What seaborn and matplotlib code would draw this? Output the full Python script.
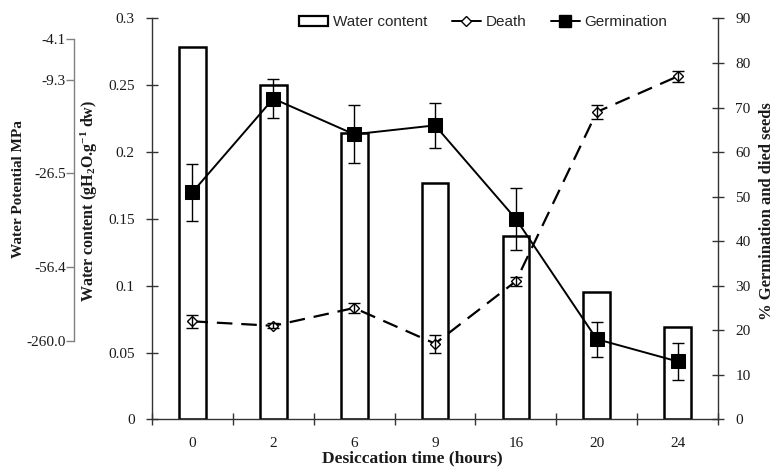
import numpy as np
import pandas as pd
import matplotlib
matplotlib.use("Agg")
import matplotlib.pyplot as plt
from matplotlib.patches import Patch
from matplotlib.lines import Line2D
import seaborn as sns

# ---- data ----
categories = ["0", "2", "6", "9", "16", "20", "24"]
water_content = [0.279, 0.250, 0.214, 0.177, 0.137, 0.095, 0.069]
germination = [51.0, 72.0, 64.0, 66.0, 45.0, 18.0, 13.0]
germination_err = [6.4, 4.4, 6.5, 5.1, 7.0, 3.9, 4.1]
death = [22.0, 21.0, 25.0, 17.0, 31.0, 69.0, 77.0]
death_err = [1.5, 0.6, 1.2, 2.0, 1.0, 1.5, 1.2]
wp_tick_pos = [0.285, 0.254, 0.184, 0.114, 0.0587]
wp_tick_labels = ["-4.1", "-9.3", "-26.5", "-56.4", "-260.0"]
wc_ticks = [0, 0.05, 0.1, 0.15, 0.2, 0.25, 0.3]
wc_tick_labels = ["0", "0.05", "0.1", "0.15", "0.2", "0.25", "0.3"]
pct_ticks = [0, 10, 20, 30, 40, 50, 60, 70, 80, 90]

df = pd.DataFrame({"time": categories, "wc": water_content,
                   "germ": germination, "death": death})
df["pos"] = np.arange(len(categories))

sns.set_theme(style="white")
plt.rcParams["font.family"] = ["Liberation Serif", "DejaVu Serif"]
plt.rcParams["mathtext.default"] = "regular"

AX_COL = "#333333"
TXT_COL = "#1a1a1a"

fig = plt.figure(figsize=(7.76, 4.68), dpi=100)
ax = fig.add_axes([0.1959, 0.104, 0.7294, 0.8565])

sns.barplot(data=df, x="time", y="wc", ax=ax, order=categories, color="white",
            saturation=1, edgecolor="black", linewidth=1.8, width=0.33, zorder=2)
ax.set_xlim(-0.5, len(categories) - 0.5)
ax.set_ylim(0, 0.3)
ax.set_yticks(wc_ticks)
ax.set_yticklabels(wc_tick_labels)
ax.set_xticks(df["pos"])
ax.set_xticklabels(categories)
ax.set_xticks(np.arange(len(categories) + 1) - 0.5, minor=True)
ax.tick_params(axis="x", which="major", length=0, pad=13, labelsize=11, labelcolor=TXT_COL)
ax.tick_params(axis="x", which="minor", direction="inout", length=8, width=1, color=AX_COL, bottom=True)
ax.tick_params(axis="y", direction="inout", length=9, width=1, color=AX_COL, pad=8,
               labelsize=11, labelcolor=TXT_COL, left=True)
for s in ["top", "right"]:
    ax.spines[s].set_visible(False)
for s in ["left", "bottom"]:
    ax.spines[s].set_color(AX_COL)
    ax.spines[s].set_linewidth(1.0)

ax.set_xlabel("Desiccation time (hours)", fontsize=12.5, fontweight="bold", color=TXT_COL)
ax.xaxis.set_label_coords(0.459, -0.078)
ax.set_ylabel("Water content (gH$_2$O.g$^{-1}$ dw)", fontsize=11.5, fontweight="bold", color=TXT_COL)
ax.yaxis.set_label_coords(-0.092, 0.545)

# ---- right axis: percentages ----
ax2 = ax.twinx()
sns.lineplot(data=df, x="pos", y="death", ax=ax2, color="black", linewidth=1.6,
             linestyle=(0, (7, 4)), marker="D", markersize=5.5, markerfacecolor="white",
             markeredgecolor="black", markeredgewidth=1.0, zorder=3)
ax2.errorbar(df["pos"], df["death"], yerr=death_err, fmt="none", ecolor="black",
             elinewidth=1, capsize=4, capthick=1, zorder=4)
sns.lineplot(data=df, x="pos", y="germ", ax=ax2, color="black", linewidth=1.4,
             marker="s", markersize=9.5, markerfacecolor="black", markeredgecolor="black", zorder=5)
ax2.errorbar(df["pos"], df["germ"], yerr=germination_err, fmt="none", ecolor="black",
             elinewidth=1, capsize=4, capthick=1, zorder=6)
ax2.set_xlim(-0.5, len(categories) - 0.5)
ax2.set_ylim(0, 90)
ax2.set_yticks(pct_ticks)
ax2.tick_params(axis="y", direction="inout", length=9, width=1, color=AX_COL, pad=8,
                labelsize=11, labelcolor=TXT_COL, right=True)
for s in ["top", "left", "bottom"]:
    ax2.spines[s].set_visible(False)
ax2.spines["right"].set_color(AX_COL)
ax2.spines["right"].set_linewidth(1.0)
ax2.set_ylabel("% Germination and died seeds", fontsize=12, fontweight="bold", color=TXT_COL)
ax2.yaxis.set_label_coords(1.0724, 0.519)

# ---- outer axis: water potential ----
ax3 = fig.add_axes(ax.get_position())
ax3.patch.set_alpha(0)
ax3.set_ylim(0, 0.3)
ax3.set_xticks([])
for s in ["top", "right", "bottom"]:
    ax3.spines[s].set_visible(False)
ax3.spines["left"].set_position(("outward", 56))
ax3.spines["left"].set_bounds(min(wp_tick_pos), max(wp_tick_pos))
ax3.spines["left"].set_color("#808080")
ax3.spines["left"].set_linewidth(1.0)
ax3.set_yticks(wp_tick_pos)
ax3.set_yticklabels(wp_tick_labels)
ax3.tick_params(axis="y", direction="out", length=6, width=1, color="#808080", pad=0,
                labelsize=11, labelcolor=TXT_COL, left=True)
ax3.set_ylabel("Water Potential MPa", fontsize=11, fontweight="bold", color=TXT_COL)
ax3.yaxis.set_label_coords(-0.224, 0.574)
ax3.set_zorder(-1)

# ---- legend ----
handles = [
    Patch(facecolor="white", edgecolor="black", linewidth=1.6, label="Water content"),
    Line2D([], [], color="black", linewidth=1.4, marker="D", markersize=5,
           markerfacecolor="white", markeredgecolor="black", label="Death"),
    Line2D([], [], color="black", linewidth=1.4, marker="s", markersize=8,
           markerfacecolor="black", label="Germination"),
]
leg = ax2.legend(handles=handles, loc="center", bbox_to_anchor=(0.585, 0.99), ncol=3,
                 frameon=False, prop={"family": "Liberation Sans", "size": 11},
                 handlelength=1.9, handletextpad=0.3, columnspacing=1.6)

fig.savefig("out.png", dpi=100)
